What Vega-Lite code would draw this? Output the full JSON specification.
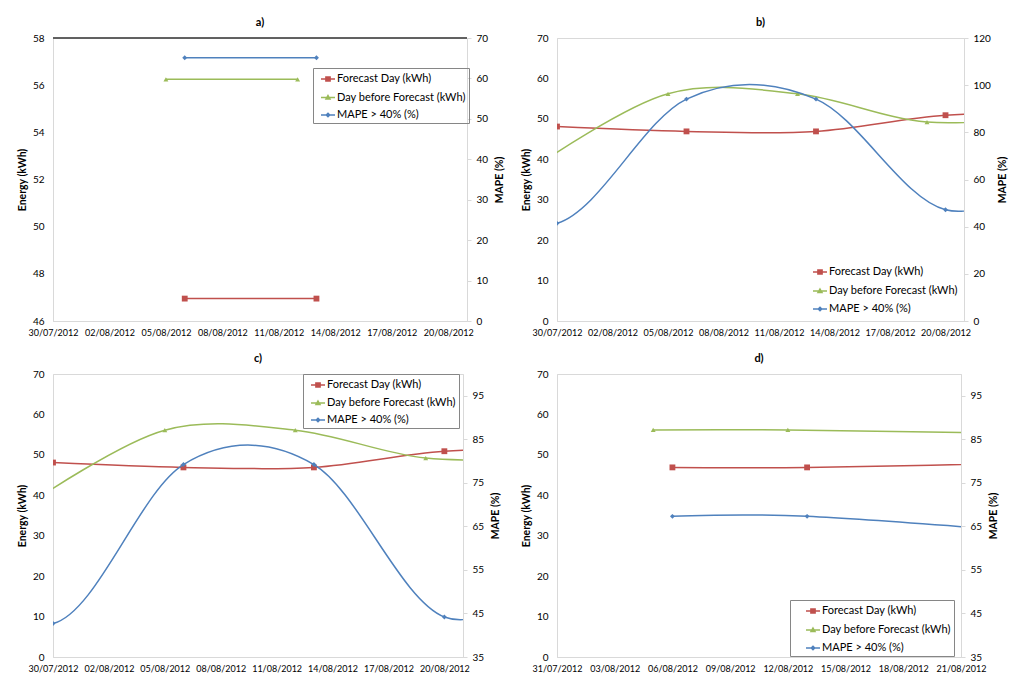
{
  "$schema": "https://vega.github.io/schema/vega-lite/v6.json",
  "padding": {"left": 16, "top": 16, "right": 4, "bottom": 2},
  "background": "white",
  "data": {
    "values": [
      {"panel": "a", "series": "Forecast Day (kWh)", "axis": "energy", "date": "2012/08/06", "value": 46.95},
      {"panel": "a", "series": "Forecast Day (kWh)", "axis": "energy", "date": "2012/08/13", "value": 46.95},
      {"panel": "a", "series": "Day before Forecast (kWh)", "axis": "energy", "date": "2012/08/05", "value": 56.25},
      {"panel": "a", "series": "Day before Forecast (kWh)", "axis": "energy", "date": "2012/08/12", "value": 56.25},
      {"panel": "a", "series": "MAPE > 40% (%)", "axis": "mape", "date": "2012/08/06", "value": 65.1},
      {"panel": "a", "series": "MAPE > 40% (%)", "axis": "mape", "date": "2012/08/13", "value": 65.1},

      {"panel": "b", "series": "Forecast Day (kWh)", "axis": "energy", "date": "2012/07/30", "value": 48.1},
      {"panel": "b", "series": "Forecast Day (kWh)", "axis": "energy", "date": "2012/08/06", "value": 46.9},
      {"panel": "b", "series": "Forecast Day (kWh)", "axis": "energy", "date": "2012/08/13", "value": 46.9},
      {"panel": "b", "series": "Forecast Day (kWh)", "axis": "energy", "date": "2012/08/20", "value": 50.9},
      {"panel": "b", "series": "Forecast Day (kWh)", "axis": "energy", "date": "2012/08/27", "value": 51.2},
      {"panel": "b", "series": "Day before Forecast (kWh)", "axis": "energy", "date": "2012/07/29", "value": 38.7},
      {"panel": "b", "series": "Day before Forecast (kWh)", "axis": "energy", "date": "2012/08/05", "value": 56.2},
      {"panel": "b", "series": "Day before Forecast (kWh)", "axis": "energy", "date": "2012/08/12", "value": 56.2},
      {"panel": "b", "series": "Day before Forecast (kWh)", "axis": "energy", "date": "2012/08/19", "value": 49.2},
      {"panel": "b", "series": "Day before Forecast (kWh)", "axis": "energy", "date": "2012/08/26", "value": 50.9},
      {"panel": "b", "series": "MAPE > 40% (%)", "axis": "mape", "date": "2012/07/23", "value": 61},
      {"panel": "b", "series": "MAPE > 40% (%)", "axis": "mape", "date": "2012/07/30", "value": 41.4},
      {"panel": "b", "series": "MAPE > 40% (%)", "axis": "mape", "date": "2012/08/06", "value": 94.1},
      {"panel": "b", "series": "MAPE > 40% (%)", "axis": "mape", "date": "2012/08/13", "value": 94.1},
      {"panel": "b", "series": "MAPE > 40% (%)", "axis": "mape", "date": "2012/08/20", "value": 47.2},
      {"panel": "b", "series": "MAPE > 40% (%)", "axis": "mape", "date": "2012/08/27", "value": 66},

      {"panel": "c", "series": "Forecast Day (kWh)", "axis": "energy", "date": "2012/07/30", "value": 48.1},
      {"panel": "c", "series": "Forecast Day (kWh)", "axis": "energy", "date": "2012/08/06", "value": 46.9},
      {"panel": "c", "series": "Forecast Day (kWh)", "axis": "energy", "date": "2012/08/13", "value": 46.9},
      {"panel": "c", "series": "Forecast Day (kWh)", "axis": "energy", "date": "2012/08/20", "value": 50.9},
      {"panel": "c", "series": "Forecast Day (kWh)", "axis": "energy", "date": "2012/08/27", "value": 51.2},
      {"panel": "c", "series": "Day before Forecast (kWh)", "axis": "energy", "date": "2012/07/29", "value": 38.7},
      {"panel": "c", "series": "Day before Forecast (kWh)", "axis": "energy", "date": "2012/08/05", "value": 56.1},
      {"panel": "c", "series": "Day before Forecast (kWh)", "axis": "energy", "date": "2012/08/12", "value": 56.1},
      {"panel": "c", "series": "Day before Forecast (kWh)", "axis": "energy", "date": "2012/08/19", "value": 49.2},
      {"panel": "c", "series": "Day before Forecast (kWh)", "axis": "energy", "date": "2012/08/26", "value": 49.3},
      {"panel": "c", "series": "MAPE > 40% (%)", "axis": "mape", "date": "2012/07/23", "value": 65},
      {"panel": "c", "series": "MAPE > 40% (%)", "axis": "mape", "date": "2012/07/30", "value": 42.7},
      {"panel": "c", "series": "MAPE > 40% (%)", "axis": "mape", "date": "2012/08/06", "value": 79.2},
      {"panel": "c", "series": "MAPE > 40% (%)", "axis": "mape", "date": "2012/08/13", "value": 79.2},
      {"panel": "c", "series": "MAPE > 40% (%)", "axis": "mape", "date": "2012/08/20", "value": 44.2},
      {"panel": "c", "series": "MAPE > 40% (%)", "axis": "mape", "date": "2012/08/27", "value": 56},

      {"panel": "d", "series": "Forecast Day (kWh)", "axis": "energy", "date": "2012/08/06", "value": 46.9},
      {"panel": "d", "series": "Forecast Day (kWh)", "axis": "energy", "date": "2012/08/13", "value": 46.9},
      {"panel": "d", "series": "Forecast Day (kWh)", "axis": "energy", "date": "2012/08/27", "value": 48.2},
      {"panel": "d", "series": "Day before Forecast (kWh)", "axis": "energy", "date": "2012/08/05", "value": 56.15},
      {"panel": "d", "series": "Day before Forecast (kWh)", "axis": "energy", "date": "2012/08/12", "value": 56.15},
      {"panel": "d", "series": "Day before Forecast (kWh)", "axis": "energy", "date": "2012/08/26", "value": 55.1},
      {"panel": "d", "series": "MAPE > 40% (%)", "axis": "mape", "date": "2012/08/06", "value": 67.3},
      {"panel": "d", "series": "MAPE > 40% (%)", "axis": "mape", "date": "2012/08/13", "value": 67.3},
      {"panel": "d", "series": "MAPE > 40% (%)", "axis": "mape", "date": "2012/08/27", "value": 62.85}
    ]
  },
  "columns": 2,
  "spacing": {"row": 14, "column": 14},
  "concat": [
    {
      "title": "a)",
      "width": 414, "height": 283,
      "transform": [{"filter": "datum.panel === 'a'"}],
      "encoding": {
        "x": {
          "field": "date", "type": "temporal",
          "scale": {"domain": [{"year": 2012, "month": 7, "date": 30}, {"year": 2012, "month": 8, "date": 21}]},
          "axis": {"title": null, "format": "%d/%m/%Y", "labelAngle": 0, "ticks": false, "labelPadding": 7, "labelFontSize": 9, "labelFlush": false, "labelOverlap": false,
            "values": [{"year": 2012, "month": 7, "date": 30}, {"year": 2012, "month": 8, "date": 2}, {"year": 2012, "month": 8, "date": 5}, {"year": 2012, "month": 8, "date": 8}, {"year": 2012, "month": 8, "date": 11}, {"year": 2012, "month": 8, "date": 14}, {"year": 2012, "month": 8, "date": 17}, {"year": 2012, "month": 8, "date": 20}]}
        },
        "color": {
          "field": "series", "type": "nominal",
          "scale": {"domain": ["Forecast Day (kWh)", "Day before Forecast (kWh)", "MAPE > 40% (%)"], "range": ["#C0504D", "#9BBB59", "#4F81BD"]},
          "legend": {
            "title": null, "orient": "none", "legendX": 260, "legendY": 30,
            "strokeColor": "#868686", "padding": 3, "symbolOffset": 4, "rowPadding": 4.5, "labelOffset": 1, "symbolSize": 196,
            "encode": {"symbols": {"update": {
              "shape": {"signal": "datum.value === 'Forecast Day (kWh)' ? 'M-1,0H1M-0.3,-0.3H0.3V0.3H-0.3Z' : datum.value === 'Day before Forecast (kWh)' ? 'M-1,0H1M0,-0.28L0.28,0.2H-0.28Z' : 'M-1,0H1M0,-0.24L0.24,0L0,0.24L-0.24,0Z'"},
              "fill": {"signal": "datum.value === 'Forecast Day (kWh)' ? '#C0504D' : datum.value === 'Day before Forecast (kWh)' ? '#9BBB59' : '#4F81BD'"},
              "stroke": {"signal": "datum.value === 'Forecast Day (kWh)' ? '#C0504D' : datum.value === 'Day before Forecast (kWh)' ? '#9BBB59' : '#4F81BD'"},
              "strokeWidth": {"value": 1.5},
              "opacity": {"value": 1}
            }}}
          }
        }
      },
      "layer": [
        {
          "transform": [{"filter": "datum.axis === 'energy'"}],
          "encoding": {
            "y": {"field": "value", "type": "quantitative", "scale": {"domain": [46, 58], "nice": false, "zero": false},
              "axis": {"orient": "left", "title": "Energy (kWh)", "values": [46, 48, 50, 52, 54, 56, 58], "ticks": false, "labelPadding": 9, "titlePadding": 5}}
          },
          "layer": [
            {"mark": {"type": "line", "interpolate": "cardinal", "strokeWidth": 1.5, "clip": true}},
            {"transform": [{"filter": "datum.series === 'Forecast Day (kWh)'"}], "mark": {"type": "square", "opacity": 1, "size": 34, "clip": true}},
            {"transform": [{"filter": "datum.series === 'Day before Forecast (kWh)'"}], "mark": {"type": "point", "shape": "triangle-up", "filled": true, "opacity": 1, "size": 24, "clip": true}},
            {"mark": {"type": "rule", "strokeWidth": 1.2},
              "encoding": {"y": {"datum": 58}, "x": {"datum": {"year": 2012, "month": 7, "date": 30}}, "x2": {"datum": {"year": 2012, "month": 8, "date": 21}}, "color": {"value": "#595959"}}}
          ]
        },
        {
          "transform": [{"filter": "datum.axis === 'mape'"}],
          "encoding": {
            "y": {"field": "value", "type": "quantitative", "scale": {"domain": [0, 70], "nice": false},
              "axis": {"orient": "right", "title": "MAPE (%)", "values": [0, 10, 20, 30, 40, 50, 60, 70], "tickSize": 4, "labelPadding": 5, "titlePadding": 7, "titleAngle": 270, "titleBaseline": "top"}}
          },
          "layer": [
            {"mark": {"type": "line", "interpolate": "cardinal", "strokeWidth": 1.5, "clip": true}},
            {"mark": {"type": "point", "shape": "diamond", "filled": true, "opacity": 1, "size": 24, "clip": true}}
          ]
        }
      ],
      "resolve": {"scale": {"y": "independent"}}
    },
    {
      "title": "b)",
      "width": 407, "height": 283,
      "transform": [{"filter": "datum.panel === 'b'"}],
      "encoding": {
        "x": {
          "field": "date", "type": "temporal",
          "scale": {"domain": [{"year": 2012, "month": 7, "date": 30}, {"year": 2012, "month": 8, "date": 21}]},
          "axis": {"title": null, "format": "%d/%m/%Y", "labelAngle": 0, "ticks": false, "labelPadding": 7, "labelFontSize": 9, "labelFlush": false, "labelOverlap": false,
            "values": [{"year": 2012, "month": 7, "date": 30}, {"year": 2012, "month": 8, "date": 2}, {"year": 2012, "month": 8, "date": 5}, {"year": 2012, "month": 8, "date": 8}, {"year": 2012, "month": 8, "date": 11}, {"year": 2012, "month": 8, "date": 14}, {"year": 2012, "month": 8, "date": 17}, {"year": 2012, "month": 8, "date": 20}]}
        },
        "color": {
          "field": "series", "type": "nominal",
          "scale": {"domain": ["Forecast Day (kWh)", "Day before Forecast (kWh)", "MAPE > 40% (%)"], "range": ["#C0504D", "#9BBB59", "#4F81BD"]},
          "legend": {
            "title": null, "orient": "none", "legendX": 248, "legendY": 223,
            "padding": 3, "symbolOffset": 4, "rowPadding": 5, "labelOffset": 1, "symbolSize": 196,
            "encode": {"symbols": {"update": {
              "shape": {"signal": "datum.value === 'Forecast Day (kWh)' ? 'M-1,0H1M-0.3,-0.3H0.3V0.3H-0.3Z' : datum.value === 'Day before Forecast (kWh)' ? 'M-1,0H1M0,-0.28L0.28,0.2H-0.28Z' : 'M-1,0H1M0,-0.24L0.24,0L0,0.24L-0.24,0Z'"},
              "fill": {"signal": "datum.value === 'Forecast Day (kWh)' ? '#C0504D' : datum.value === 'Day before Forecast (kWh)' ? '#9BBB59' : '#4F81BD'"},
              "stroke": {"signal": "datum.value === 'Forecast Day (kWh)' ? '#C0504D' : datum.value === 'Day before Forecast (kWh)' ? '#9BBB59' : '#4F81BD'"},
              "strokeWidth": {"value": 1.5},
              "opacity": {"value": 1}
            }}}
          }
        }
      },
      "layer": [
        {
          "transform": [{"filter": "datum.axis === 'energy'"}],
          "encoding": {
            "y": {"field": "value", "type": "quantitative", "scale": {"domain": [0, 70], "nice": false},
              "axis": {"orient": "left", "title": "Energy (kWh)", "values": [0, 10, 20, 30, 40, 50, 60, 70], "ticks": false, "labelPadding": 9, "titlePadding": 5}}
          },
          "layer": [
            {"mark": {"type": "line", "interpolate": "cardinal", "strokeWidth": 1.5, "clip": true}},
            {"transform": [{"filter": "datum.series === 'Forecast Day (kWh)'"}], "mark": {"type": "square", "opacity": 1, "size": 34, "clip": true}},
            {"transform": [{"filter": "datum.series === 'Day before Forecast (kWh)'"}], "mark": {"type": "point", "shape": "triangle-up", "filled": true, "opacity": 1, "size": 24, "clip": true}}
          ]
        },
        {
          "transform": [{"filter": "datum.axis === 'mape'"}],
          "encoding": {
            "y": {"field": "value", "type": "quantitative", "scale": {"domain": [0, 120], "nice": false},
              "axis": {"orient": "right", "title": "MAPE (%)", "values": [0, 20, 40, 60, 80, 100, 120], "tickSize": 4, "labelPadding": 5, "titlePadding": 7, "titleAngle": 270, "titleBaseline": "top"}}
          },
          "layer": [
            {"mark": {"type": "line", "interpolate": "cardinal", "strokeWidth": 1.5, "clip": true}},
            {"mark": {"type": "point", "shape": "diamond", "filled": true, "opacity": 1, "size": 24, "clip": true}}
          ]
        }
      ],
      "resolve": {"scale": {"y": "independent"}}
    },
    {
      "title": "c)",
      "width": 410, "height": 283,
      "transform": [{"filter": "datum.panel === 'c'"}],
      "encoding": {
        "x": {
          "field": "date", "type": "temporal",
          "scale": {"domain": [{"year": 2012, "month": 7, "date": 30}, {"year": 2012, "month": 8, "date": 21}]},
          "axis": {"title": null, "format": "%d/%m/%Y", "labelAngle": 0, "ticks": false, "labelPadding": 7, "labelFontSize": 9, "labelFlush": false, "labelOverlap": false,
            "values": [{"year": 2012, "month": 7, "date": 30}, {"year": 2012, "month": 8, "date": 2}, {"year": 2012, "month": 8, "date": 5}, {"year": 2012, "month": 8, "date": 8}, {"year": 2012, "month": 8, "date": 11}, {"year": 2012, "month": 8, "date": 14}, {"year": 2012, "month": 8, "date": 17}, {"year": 2012, "month": 8, "date": 20}]}
        },
        "color": {
          "field": "series", "type": "nominal",
          "scale": {"domain": ["Forecast Day (kWh)", "Day before Forecast (kWh)", "MAPE > 40% (%)"], "range": ["#C0504D", "#9BBB59", "#4F81BD"]},
          "legend": {
            "title": null, "orient": "none", "legendX": 250, "legendY": 0,
            "strokeColor": "#868686", "padding": 3, "symbolOffset": 4, "rowPadding": 4, "labelOffset": 1, "symbolSize": 196,
            "encode": {"symbols": {"update": {
              "shape": {"signal": "datum.value === 'Forecast Day (kWh)' ? 'M-1,0H1M-0.3,-0.3H0.3V0.3H-0.3Z' : datum.value === 'Day before Forecast (kWh)' ? 'M-1,0H1M0,-0.28L0.28,0.2H-0.28Z' : 'M-1,0H1M0,-0.24L0.24,0L0,0.24L-0.24,0Z'"},
              "fill": {"signal": "datum.value === 'Forecast Day (kWh)' ? '#C0504D' : datum.value === 'Day before Forecast (kWh)' ? '#9BBB59' : '#4F81BD'"},
              "stroke": {"signal": "datum.value === 'Forecast Day (kWh)' ? '#C0504D' : datum.value === 'Day before Forecast (kWh)' ? '#9BBB59' : '#4F81BD'"},
              "strokeWidth": {"value": 1.5},
              "opacity": {"value": 1}
            }}}
          }
        }
      },
      "layer": [
        {
          "transform": [{"filter": "datum.axis === 'energy'"}],
          "encoding": {
            "y": {"field": "value", "type": "quantitative", "scale": {"domain": [0, 70], "nice": false},
              "axis": {"orient": "left", "title": "Energy (kWh)", "values": [0, 10, 20, 30, 40, 50, 60, 70], "ticks": false, "labelPadding": 9, "titlePadding": 5}}
          },
          "layer": [
            {"mark": {"type": "line", "interpolate": "cardinal", "strokeWidth": 1.5, "clip": true}},
            {"transform": [{"filter": "datum.series === 'Forecast Day (kWh)'"}], "mark": {"type": "square", "opacity": 1, "size": 34, "clip": true}},
            {"transform": [{"filter": "datum.series === 'Day before Forecast (kWh)'"}], "mark": {"type": "point", "shape": "triangle-up", "filled": true, "opacity": 1, "size": 24, "clip": true}}
          ]
        },
        {
          "transform": [{"filter": "datum.axis === 'mape'"}],
          "encoding": {
            "y": {"field": "value", "type": "quantitative", "scale": {"domain": [35, 100], "nice": false, "zero": false},
              "axis": {"orient": "right", "title": "MAPE (%)", "values": [35, 45, 55, 65, 75, 85, 95], "tickSize": 4, "labelPadding": 5, "titlePadding": 7, "titleAngle": 270, "titleBaseline": "top"}}
          },
          "layer": [
            {"mark": {"type": "line", "interpolate": "cardinal", "strokeWidth": 1.5, "clip": true}},
            {"mark": {"type": "point", "shape": "diamond", "filled": true, "opacity": 1, "size": 24, "clip": true}}
          ]
        }
      ],
      "resolve": {"scale": {"y": "independent"}}
    },
    {
      "title": "d)",
      "width": 404, "height": 283,
      "transform": [{"filter": "datum.panel === 'd'"}],
      "encoding": {
        "x": {
          "field": "date", "type": "temporal",
          "scale": {"domain": [{"year": 2012, "month": 7, "date": 31}, {"year": 2012, "month": 8, "date": 21}]},
          "axis": {"title": null, "format": "%d/%m/%Y", "labelAngle": 0, "ticks": false, "labelPadding": 7, "labelFontSize": 9, "labelFlush": false, "labelOverlap": false,
            "values": [{"year": 2012, "month": 7, "date": 31}, {"year": 2012, "month": 8, "date": 3}, {"year": 2012, "month": 8, "date": 6}, {"year": 2012, "month": 8, "date": 9}, {"year": 2012, "month": 8, "date": 12}, {"year": 2012, "month": 8, "date": 15}, {"year": 2012, "month": 8, "date": 18}, {"year": 2012, "month": 8, "date": 21}]}
        },
        "color": {
          "field": "series", "type": "nominal",
          "scale": {"domain": ["Forecast Day (kWh)", "Day before Forecast (kWh)", "MAPE > 40% (%)"], "range": ["#C0504D", "#9BBB59", "#4F81BD"]},
          "legend": {
            "title": null, "orient": "none", "legendX": 233, "legendY": 226,
            "strokeColor": "#868686", "padding": 3, "symbolOffset": 12, "rowPadding": 5, "labelOffset": 1, "symbolSize": 196,
            "encode": {"symbols": {"update": {
              "shape": {"signal": "datum.value === 'Forecast Day (kWh)' ? 'M-1,0H1M-0.3,-0.3H0.3V0.3H-0.3Z' : datum.value === 'Day before Forecast (kWh)' ? 'M-1,0H1M0,-0.28L0.28,0.2H-0.28Z' : 'M-1,0H1M0,-0.24L0.24,0L0,0.24L-0.24,0Z'"},
              "fill": {"signal": "datum.value === 'Forecast Day (kWh)' ? '#C0504D' : datum.value === 'Day before Forecast (kWh)' ? '#9BBB59' : '#4F81BD'"},
              "stroke": {"signal": "datum.value === 'Forecast Day (kWh)' ? '#C0504D' : datum.value === 'Day before Forecast (kWh)' ? '#9BBB59' : '#4F81BD'"},
              "strokeWidth": {"value": 1.5},
              "opacity": {"value": 1}
            }}}
          }
        }
      },
      "layer": [
        {
          "transform": [{"filter": "datum.axis === 'energy'"}],
          "encoding": {
            "y": {"field": "value", "type": "quantitative", "scale": {"domain": [0, 70], "nice": false},
              "axis": {"orient": "left", "title": "Energy (kWh)", "values": [0, 10, 20, 30, 40, 50, 60, 70], "ticks": false, "labelPadding": 9, "titlePadding": 5}}
          },
          "layer": [
            {"mark": {"type": "line", "interpolate": "cardinal", "strokeWidth": 1.5, "clip": true}},
            {"transform": [{"filter": "datum.series === 'Forecast Day (kWh)'"}], "mark": {"type": "square", "opacity": 1, "size": 34, "clip": true}},
            {"transform": [{"filter": "datum.series === 'Day before Forecast (kWh)'"}], "mark": {"type": "point", "shape": "triangle-up", "filled": true, "opacity": 1, "size": 24, "clip": true}}
          ]
        },
        {
          "transform": [{"filter": "datum.axis === 'mape'"}],
          "encoding": {
            "y": {"field": "value", "type": "quantitative", "scale": {"domain": [35, 100], "nice": false, "zero": false},
              "axis": {"orient": "right", "title": "MAPE (%)", "values": [35, 45, 55, 65, 75, 85, 95], "tickSize": 4, "labelPadding": 5, "titlePadding": 7, "titleAngle": 270, "titleBaseline": "top"}}
          },
          "layer": [
            {"mark": {"type": "line", "interpolate": "cardinal", "strokeWidth": 1.5, "clip": true}},
            {"mark": {"type": "point", "shape": "diamond", "filled": true, "opacity": 1, "size": 24, "clip": true}}
          ]
        }
      ],
      "resolve": {"scale": {"y": "independent"}}
    }
  ],
  "resolve": {"scale": {"color": "independent"}},
  "config": {
    "font": "Lato",
    "view": {"stroke": "#d9d9d9"},
    "axis": {"labelFont": "Lato", "labelFontSize": 10, "labelColor": "#000000", "titleFont": "Lato", "titleFontSize": 10.5, "titleFontWeight": "bold", "titleColor": "#000000", "grid": false, "domainColor": "#d9d9d9", "tickColor": "#d9d9d9"},
    "title": {"font": "Lato", "fontSize": 11, "fontWeight": "bold", "color": "#000000", "offset": 5},
    "legend": {"labelFont": "Lato", "labelFontSize": 11, "labelColor": "#000000", "labelLimit": 300}
  }
}
